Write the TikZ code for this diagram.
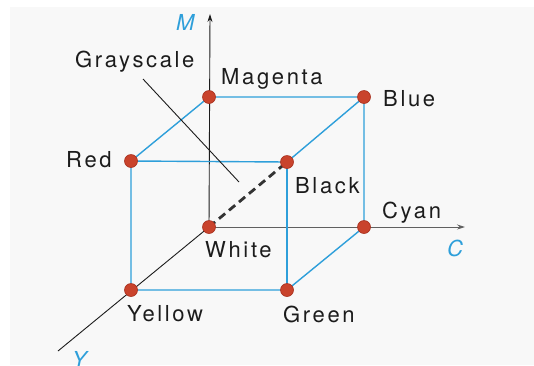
\documentclass[tikz,border=0pt]{standalone}
\usepackage{fontspec}
\setmainfont{TeX Gyre Heros}[LetterSpace=12]
\usetikzlibrary{
  arrows.meta,
  positioning
}
\definecolor{edgeblue}{HTML}{2E9FDA}
\definecolor{dotred}{HTML}{C9432C}
\definecolor{dotrim}{HTML}{A8301E}
\definecolor{ink}{HTML}{1C1C1C}
\definecolor{paper}{HTML}{F8F8F8}
\tikzset{
  corner/.style={
    circle,
    fill=dotred,
    draw=dotrim,
    line width=0.6pt,
    minimum size=13pt,
    inner sep=0pt
  },
  tag/.style={
    anchor=base west,
    inner sep=0pt,
    text=ink,
    font=\fontsize{22}{26}\selectfont
  },
  axistag/.style={
    tag,
    text=edgeblue,
    font=\fontsize{22}{26}\selectfont\itshape
  },
  cubeedge/.style={draw=edgeblue, line width=1.4pt},
  axis/.style={-{Stealth[length=8pt, width=5pt]}, draw=ink, line width=0.9pt},
  grayline/.style={draw=ink!90, line width=2.8pt, dash pattern=on 8pt off 5pt}
}

\begin{document}
\begin{tikzpicture}[x=1pt, y=-1pt]
  \useasboundingbox (0,0) rectangle (534,365);
  \fill[paper] (10,7) rectangle (534,365);

  % cube corners
  \coordinate (white) at (209,227);
  \coordinate (magenta) at (209,97);
  \coordinate (blue) at (364,97);
  \coordinate (cyan) at (364,227);
  \coordinate (red) at (131,161);
  \coordinate (black) at (287,162);
  \coordinate (yellow) at (131,290);
  \coordinate (green) at (287,290);
  \coordinate (mtip) at (210,14);
  \coordinate (ctip) at (465,227);
  \coordinate (yend) at (58,351);

  % axes
  \draw[axis] (white) -- (mtip);
  \draw[axis, draw=ink!70] (white) -- (ctip);
  \draw[draw=ink, line width=0.9pt] (white) -- (yend);

  % cube edges
  \draw[cubeedge] (magenta) -- (blue) -- (cyan) -- (green) -- (yellow) -- (red) -- (magenta);
  \draw[cubeedge] (red) -- (black) -- (blue);
  \draw[cubeedge] (black) -- (green);

  % gray diagonal
  \draw[grayline] (white) -- (black);

  \foreach \c in {white, magenta, blue, cyan, red, black, yellow, green}
    \node[corner] (dot-\c) at (\c) {};

  % labels
  \node[tag] (graytxt) at (75,67) {Grayscale};
  \coordinate (grayfrom) at (143,79);
  \coordinate (grayto) at (239,182);
  \draw[draw=ink, line width=0.9pt] (grayfrom) -- (grayto);

  \node[tag] (magtxt) at (221,84) {Magenta};
  \node[tag] (bluetxt) at (383,106) {Blue};
  \node[tag] (redtxt) at (66,167) {Red};
  \node[tag] (blacktxt) at (295,193) {Black};
  \node[tag] (cyantxt) at (382,218) {Cyan};
  \node[tag] (whitetxt) at (205,257) {White};
  \node[tag] (yellowtxt) at (127,321) {Yellow};
  \node[tag] (greentxt) at (283,322) {Green};

  \node[axistag] (mtxt) at (176,30) {M};
  \node[axistag] (ctxt) at (447,256) {C};
  \node[axistag] (ytxt) at (72,367) {Y};
\end{tikzpicture}
\end{document}
